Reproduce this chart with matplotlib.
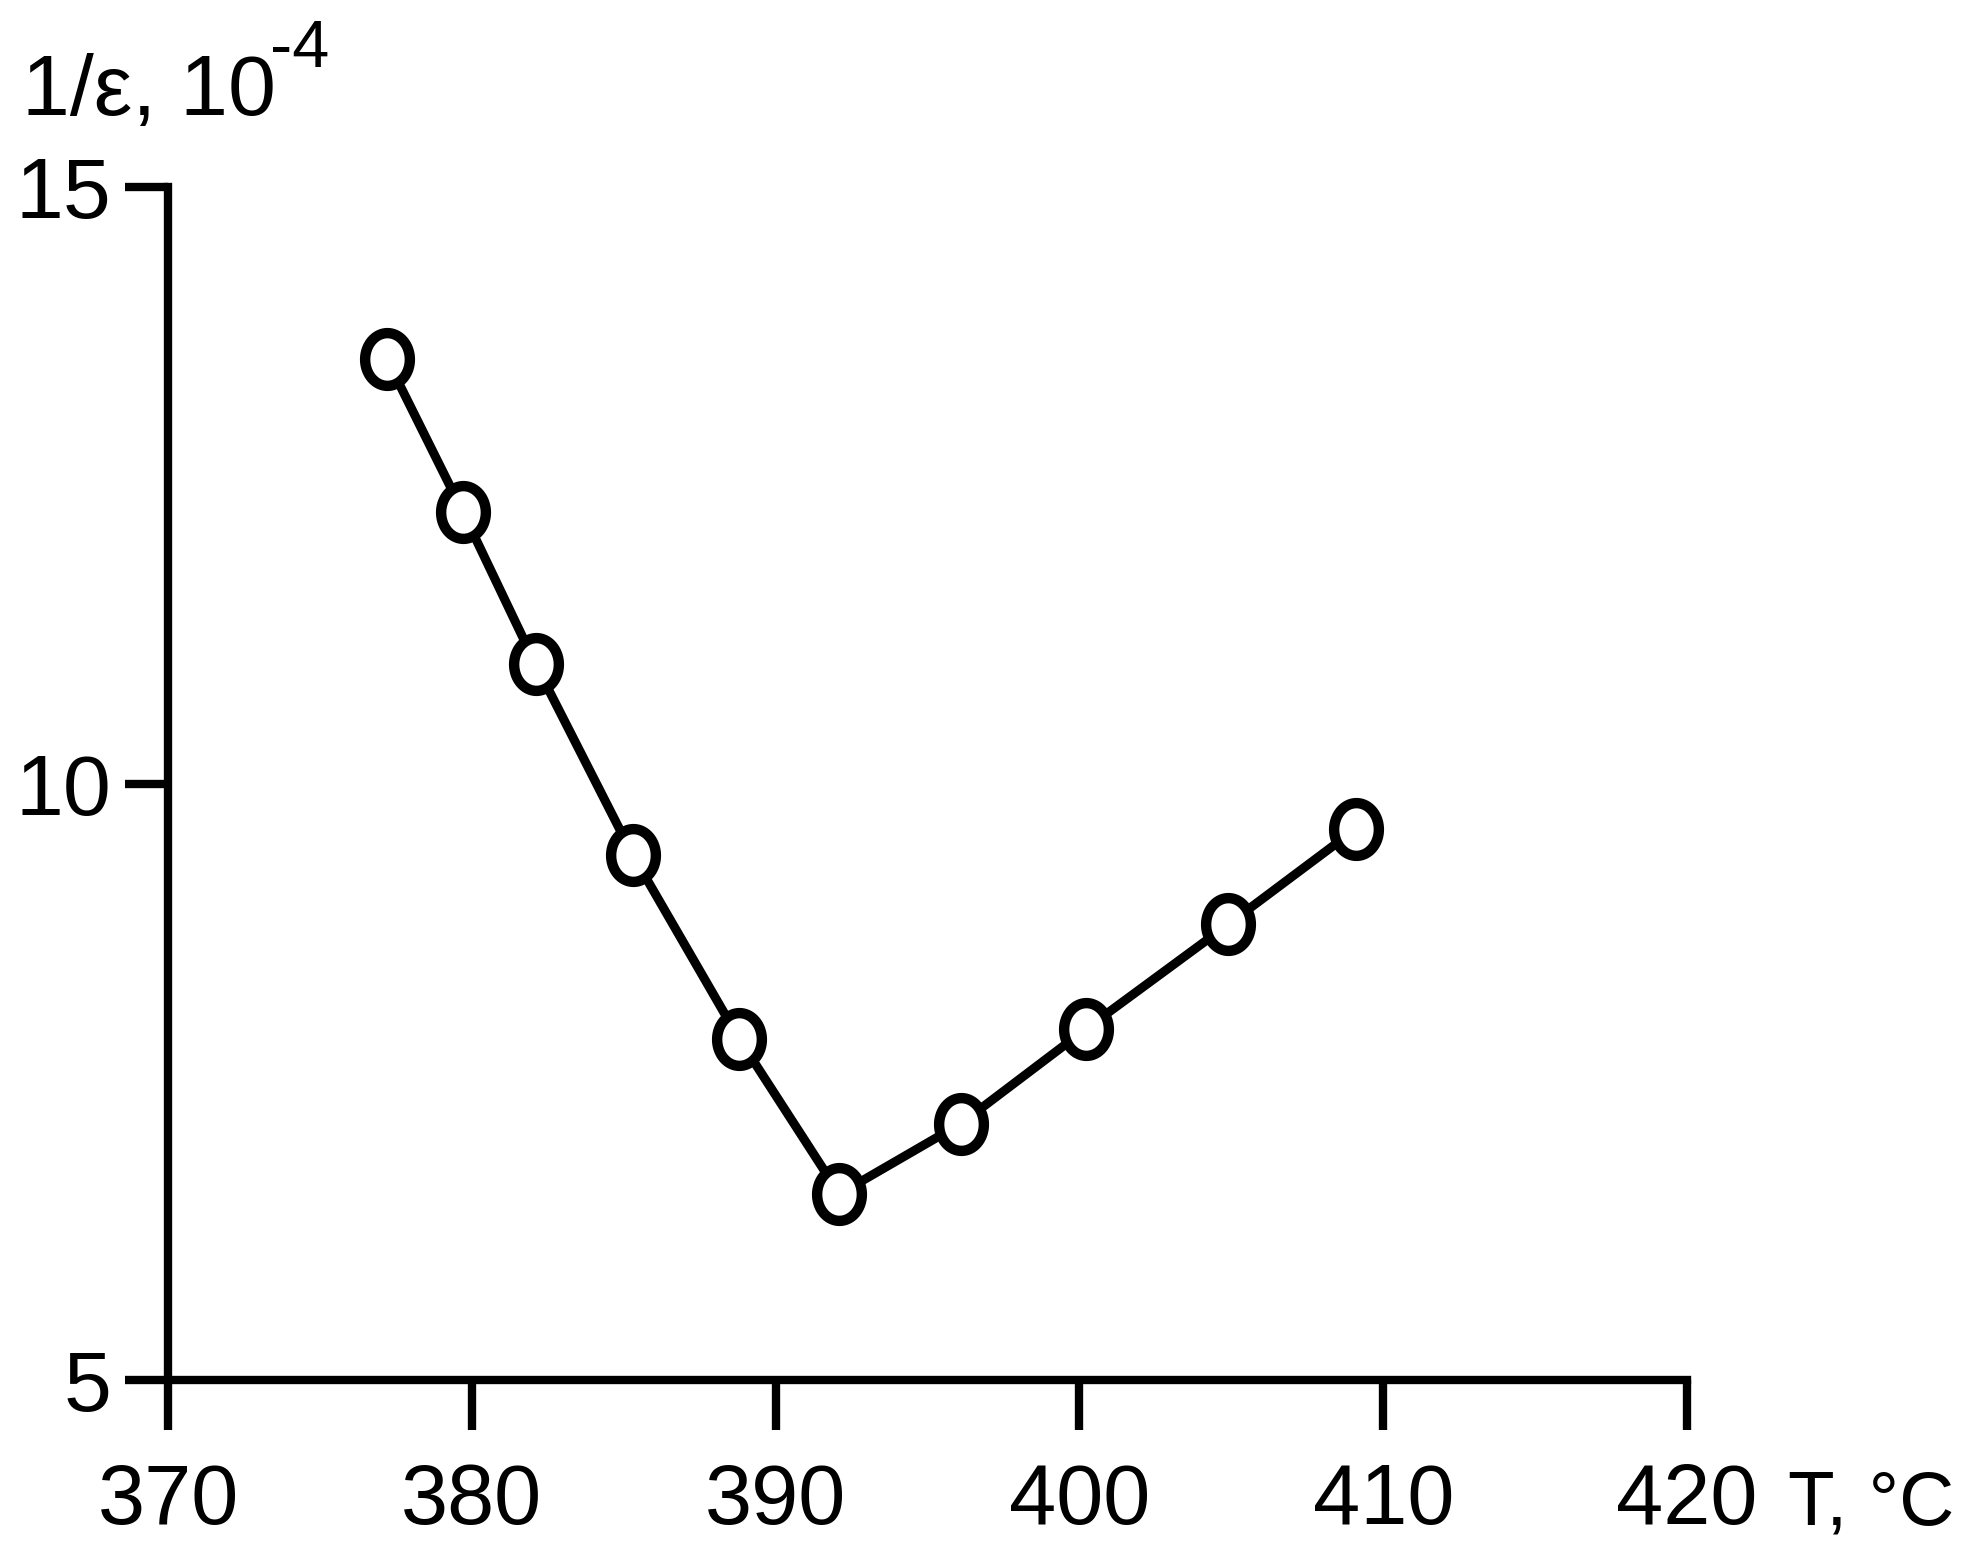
import numpy as np
import matplotlib
matplotlib.use("Agg")
import matplotlib.pyplot as plt
from matplotlib.path import Path

# datos
temperatura = [377.2, 379.7, 382.1, 385.3, 388.8, 392.1, 396.1, 400.2, 404.9, 409.1]
inv_eps = [13.56, 12.28, 11.00, 9.40, 7.86, 6.56, 7.15, 7.94, 8.82, 9.62]
x_ticks = [370, 380, 390, 400, 410, 420]
y_ticks = [5, 10, 15]

plt.rcParams['font.family'] = ['Liberation Sans', 'DejaVu Sans']

# marcador eliptico (un poco mas alto que ancho)
t = np.linspace(0, 2*np.pi, 73)
elipse = Path(np.column_stack([np.cos(t), 1.18*np.sin(t)]), closed=True)

fig = plt.figure(figsize=(19.72, 15.52), dpi=100)
ax = fig.add_axes([0.0852, 0.1108, 0.7703, 0.7687])

ax.plot(temperatura, inv_eps, color='black', linewidth=6.5,
        marker=elipse, markersize=38, markerfacecolor='white',
        markeredgecolor='black', markeredgewidth=7.5, zorder=3, clip_on=False)

ax.set_xlim(370, 420)
ax.set_ylim(5, 15)
ax.set_xticks(x_ticks)
ax.set_yticks(y_ticks)
ax.spines['top'].set_visible(False)
ax.spines['right'].set_visible(False)
for s in ['left', 'bottom']:
    ax.spines[s].set_linewidth(6)
    ax.spines[s].set_capstyle('projecting')
ax.tick_params(axis='x', direction='out', length=36, width=6, labelsize=61, pad=23)
ax.tick_params(axis='y', direction='out', length=31, width=6, labelsize=62, pad=10)

# etiquetas de los ejes
fig.text(1788/1972, 1 - 1525/1552, 'T, °C', fontsize=55, va='baseline', ha='left')
fig.text(22/1972, 1 - 115/1552, '1/ε, 10', fontsize=62, va='baseline', ha='left')
fig.text(270/1972, 1 - 67/1552, '-4', fontsize=48, va='baseline', ha='left')

fig.savefig('out.png', dpi=100, facecolor='white')
